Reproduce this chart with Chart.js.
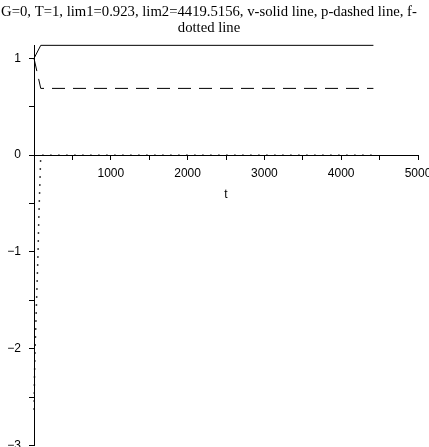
<!DOCTYPE html>
<html>
<head>
<meta charset="utf-8">
<script src="https://cdn.jsdelivr.net/npm/chart.js@4.4.1/dist/chart.umd.min.js"></script>
<style>
  html, body { margin: 0; padding: 0; overflow: hidden; background: #fff; }
  #wrap { position: relative; width: 429px; height: 447px; }
</style>
</head>
<body>
<div id="wrap"><canvas id="chart"></canvas></div>
<script>
const titleLines = ['G=0, T=1, lim1=0.923, lim2=4419.5156, v-solid line, p-dashed line, f-', 'dotted line']

// v - solid line
const vTimes = [0, 88, 4419.5]
const vValues = [1, 1.135, 1.135]
// p - dashed line
const pTimes = [0, 88, 4419.5]
const pValues = [1, 0.69, 0.69]
// f - dotted line
const fTimes = [1, 6, 14, 27, 40, 53, 62, 75, 88, 4419.5]
const fValues = [-2.63, -2.3, -2, -1.67, -1.33, -1, -0.67, -0.33, 0, 0]

// axis ticks (labels only on the whole ones)
const xTicks = [0, 500, 1000, 1500, 2000, 2500, 3000, 3500, 4000, 4500, 5000]
const yTicks = [-3, -2.5, -2, -1.5, -1, -0.5, 0, 0.5, 1]

const toPoints = (ts, vs) => ts.map((t, i) => ({ x: t, y: vs[i] }))
const tickFont = { family: 'Liberation Sans', size: 12, weight: 'normal' }

const line = (data, extra) => Object.assign({
  data: data,
  borderColor: '#000',
  borderWidth: 1,
  pointRadius: 0,
  clip: false,
}, extra)

const ctx = document.getElementById('chart').getContext('2d')
const chart = new Chart(ctx, {
  type: 'line',
  data: {
    datasets: [
      line(toPoints(vTimes, vValues), { label: 'v' }),
      line(toPoints(pTimes, pValues), { label: 'p', borderDash: [13, 8] }),
      line(toPoints(fTimes, fValues), { label: 'f', borderWidth: 1.5, borderDash: [1.5, 6.5] }),
    ],
  },
  options: {
    responsive: true,
    maintainAspectRatio: false,
    animation: false,
    layout: { padding: { left: 0, right: 11, top: 0, bottom: 1.5 } },
    plugins: {
      legend: { display: false },
      tooltip: { enabled: false },
      title: {
        display: true,
        text: titleLines,
        color: '#000',
        font: { family: 'Liberation Serif', size: 14.7, weight: 'normal', lineHeight: 1.1 },
        padding: { top: 4, bottom: 9 },
      },
    },
    scales: {
      x: {
        type: 'linear',
        min: 0,
        max: 5000,
        position: { y: 0 },
        afterBuildTicks: scale => { scale.ticks = xTicks.map(v => ({ value: v })) },
        afterFit: scale => {
          scale.paddingLeft = 0
          scale.paddingRight = 0
        },
        ticks: {
          autoSkip: false,
          maxRotation: 0,
          color: '#000',
          font: tickFont,
          padding: 7,
          callback: v => (v % 1000 === 0 && v !== 0) ? String(v) : '',
        },
        grid: { drawOnChartArea: false, tickLength: 4, color: '#000' },
        border: { color: '#000' },
        title: { display: true, text: 't', color: '#000', font: tickFont, padding: { top: 0 } },
      },
      y: {
        min: -3,
        max: 1.135,
        afterBuildTicks: scale => { scale.ticks = yTicks.map(v => ({ value: v })) },
        afterFit: scale => {
          scale.width = 34
          scale.paddingTop = 0
          scale.paddingBottom = 0
        },
        ticks: {
          autoSkip: false,
          color: '#000',
          font: tickFont,
          padding: 8,
          callback: v => Number.isInteger(v) ? (v < 0 ? '\u2212' + Math.abs(v) : String(v)) : '',
        },
        grid: { drawOnChartArea: false, tickLength: 5, color: '#000' },
        border: { color: '#000' },
      },
    },
  },
})
</script>
</body>
</html>
